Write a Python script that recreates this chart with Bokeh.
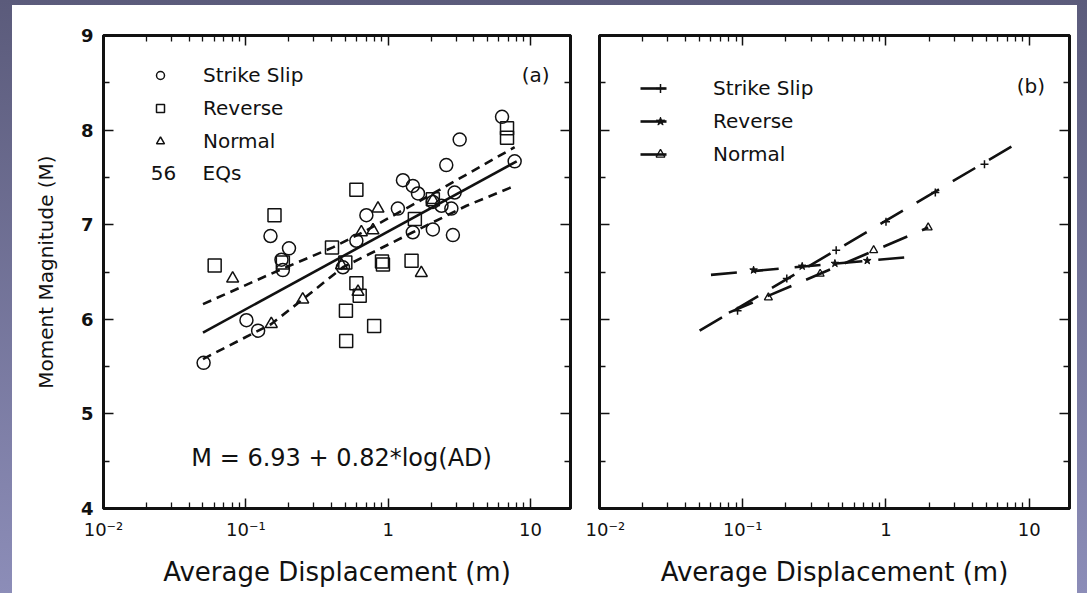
from bokeh.plotting import figure
from bokeh.models import (LogAxis, LinearAxis, FixedTicker, CustomJSTickFormatter,
                          Label, Legend, LegendItem)
from bokeh.layouts import row
from bokeh.embed import file_html
from bokeh.resources import INLINE

FONT = "DejaVu Sans"
INK = "#111111"

# ---------------- data: panel (a) ----------------
ss_ad = [6.31, 3.18, 7.74, 2.56, 1.27, 1.49, 1.62, 2.93, 2.37, 2.78, 0.703, 1.17, 1.49,
         2.06, 2.85, 0.149, 0.201, 0.598, 0.178, 0.182, 0.101, 0.122, 0.0505, 0.481, 2.06]
ss_m = [8.14, 7.90, 7.67, 7.63, 7.47, 7.41, 7.33, 7.34, 7.20, 7.17, 7.10, 7.17, 6.92,
        6.95, 6.89, 6.88, 6.75, 6.83, 6.63, 6.52, 5.99, 5.88, 5.54, 6.55, 7.24]

rev_ad = [6.84, 6.84, 0.598, 0.159, 1.54, 0.403, 0.0604, 0.182, 0.919, 0.905, 1.46, 0.598,
          0.631, 0.505, 0.797, 0.507, 0.50, 2.06]
rev_m = [8.02, 7.92, 7.37, 7.10, 7.06, 6.76, 6.57, 6.60, 6.58, 6.61, 6.62, 6.38,
         6.25, 6.09, 5.93, 5.77, 6.60, 7.27]

nor_ad = [0.848, 0.782, 0.648, 1.71, 0.0808, 0.251, 0.151, 0.614, 0.47, 2.06]
nor_m = [7.17, 6.94, 6.92, 6.49, 6.43, 6.21, 5.95, 6.29, 6.57, 7.26]

fit_ad = [0.05, 8.0]
fit_m = [5.86, 7.67]
upper_ad = [0.05, 0.178, 0.409, 0.703, 2.07, 7.74]
upper_m = [6.16, 6.53, 6.76, 6.94, 7.33, 7.82]
lower_ad = [0.05, 0.151, 0.251, 0.481, 1.49, 3.55, 7.74]
lower_m = [5.58, 5.95, 6.21, 6.55, 6.92, 7.20, 7.41]

# ---------------- data: panel (b) ----------------
ssb_line_ad = [0.05, 7.8]
ssb_line_m = [5.88, 7.84]
ssb_mk_ad = [0.092, 0.203, 0.449, 1.0, 2.21, 4.87]
ssb_mk_m = [6.09, 6.43, 6.73, 7.03, 7.34, 7.64]

revb_line_ad = [0.06, 1.5]
revb_line_m = [6.47, 6.66]
revb_mk_ad = [0.119, 0.26, 0.44, 0.74]
revb_mk_m = [6.52, 6.56, 6.59, 6.62]

norb_line_ad = [0.08, 1.97]
norb_line_m = [6.07, 6.97]
norb_mk_ad = [0.151, 0.347, 0.82, 1.97]
norb_mk_m = [6.23, 6.48, 6.73, 6.97]

# ---------------- axes ----------------
x_ticks = [0.01, 0.1, 1, 10]
x_tick_labels = ["10\u207b\u00b2", "10\u207b\u00b9", "1", "10"]
x_minor = [m * 10.0 ** k for k in (-2, -1, 0, 1) for m in range(2, 10)]
y_ticks = [4, 5, 6, 7, 8, 9]
y_minor = [4.5, 5.5, 6.5, 7.5, 8.5]

X_RANGE = (0.01, 19.1)
Y_RANGE = (4, 9)


def x_formatter():
    return CustomJSTickFormatter(
        args=dict(tick_vals=x_ticks, tick_texts=x_tick_labels),
        code="""
        for (let i = 0; i < tick_vals.length; i++) {
            if (Math.abs(Math.log10(tick_vals[i]) - Math.log10(tick)) < 1e-6) return tick_texts[i];
        }
        return '';
        """)


def blank_formatter():
    return CustomJSTickFormatter(code="return '';")


def style_axis(ax, show_labels):
    ax.axis_line_width = 3
    ax.axis_line_color = INK
    ax.major_tick_in = 10
    ax.major_tick_out = 0
    ax.minor_tick_in = 6
    ax.minor_tick_out = 0
    ax.major_tick_line_width = 1.5
    ax.minor_tick_line_width = 1.3
    ax.major_tick_line_color = INK
    ax.minor_tick_line_color = INK
    ax.major_label_text_font = FONT
    ax.major_label_text_color = INK
    ax.axis_label_text_font = FONT
    ax.axis_label_text_color = INK
    ax.axis_label_text_font_style = "normal"
    if not show_labels:
        ax.formatter = blank_formatter()
        ax.major_label_text_font_size = "0px"
        ax.major_label_standoff = 0


def make_fig(frame_w, left_b, right_b, show_y_labels):
    p = figure(x_axis_type="log", x_range=X_RANGE, y_range=Y_RANGE,
               frame_width=frame_w, frame_height=473,
               min_border_left=left_b, min_border_right=right_b,
               min_border_top=30, min_border_bottom=85,
               output_backend="svg", toolbar_location=None)
    p.background_fill_color = "white"
    p.border_fill_color = "white"
    p.outline_line_color = INK
    p.outline_line_width = 3
    p.xgrid.visible = False
    p.ygrid.visible = False

    xt = FixedTicker(ticks=x_ticks, minor_ticks=x_minor)
    yt = FixedTicker(ticks=y_ticks, minor_ticks=y_minor)

    xa = p.xaxis[0]
    xa.ticker = xt
    xa.formatter = x_formatter()
    style_axis(xa, True)
    xa.major_label_text_font_size = "18px"
    xa.major_label_standoff = 10
    xa.axis_label = "Average Displacement (m)"
    xa.axis_label_text_font_size = "26px"
    xa.axis_label_standoff = 14

    ya = p.yaxis[0]
    ya.ticker = yt
    style_axis(ya, show_y_labels)
    if show_y_labels:
        ya.major_label_text_font_size = "18px"
        ya.major_label_text_font_style = "bold"
        ya.major_label_standoff = 10
        ya.axis_label = "Moment Magnitude (M)"
        ya.axis_label_text_font_size = "20px"
        ya.axis_label_standoff = 20

    top = LogAxis(ticker=FixedTicker(ticks=x_ticks, minor_ticks=x_minor))
    style_axis(top, False)
    p.add_layout(top, "above")
    right = LinearAxis(ticker=FixedTicker(ticks=y_ticks, minor_ticks=y_minor))
    style_axis(right, False)
    p.add_layout(right, "right")
    return p


def add_label(p, x, y, text, size, align="left"):
    p.add_layout(Label(x=x, y=y, text=text, text_font=FONT, text_font_size=size,
                       text_color=INK, text_align=align, text_baseline="middle"))


# ---------------- panel (a) ----------------
pa = make_fig(467, 91, 15, True)
pa.margin = (5, 0, 0, 12)
pa.line(fit_ad, fit_m, line_color=INK, line_width=2.6)
pa.line(upper_ad, upper_m, line_color=INK, line_width=2.6, line_dash="9 6")
pa.line(lower_ad, lower_m, line_color=INK, line_width=2.6, line_dash="9 6")
r_ss = pa.scatter(ss_ad, ss_m, marker="circle", size=13, fill_color=None,
                  line_color=INK, line_width=1.5)
r_rev = pa.scatter(rev_ad, rev_m, marker="square", size=13, fill_color=None,
                   line_color=INK, line_width=1.5)
r_nor = pa.scatter(nor_ad, nor_m, marker="triangle", size=12, fill_color=None,
                   line_color=INK, line_width=1.5)

leg_a = Legend(items=[LegendItem(label="Strike Slip", renderers=[r_ss]),
                      LegendItem(label="Reverse", renderers=[r_rev]),
                      LegendItem(label="Normal", renderers=[r_nor])],
               location=(47, 355), padding=0, margin=0, spacing=9,
               glyph_width=20, glyph_height=22, label_height=22, label_standoff=33,
               label_text_font=FONT, label_text_font_size="20px", label_text_color=INK,
               border_line_color=None, background_fill_alpha=0)
pa.add_layout(leg_a)
add_label(pa, 0.0215, 7.55, "56", "20px")
add_label(pa, 0.0497, 7.55, "EQs", "20px")
add_label(pa, 13.6, 8.58, "(a)", "20px", align="right")
add_label(pa, 0.471, 4.53, "M = 6.93 + 0.82*log(AD)", "24px", align="center")

# ---------------- panel (b) ----------------
pb = make_fig(470, 14, 8, False)
pb.margin = (5, 10, 0, 0)
DASH = "26 16"
l_ss = pb.line(ssb_line_ad, ssb_line_m, line_color=INK, line_width=2.6, line_dash=DASH)
m_ss = pb.scatter(ssb_mk_ad, ssb_mk_m, marker="cross", size=8, line_color=INK, line_width=1.5)
l_rev = pb.line(revb_line_ad, revb_line_m, line_color=INK, line_width=2.6, line_dash=DASH)
m_rev = pb.scatter(revb_mk_ad, revb_mk_m, marker="star", size=8, fill_color=INK,
                   line_color=INK, line_width=1)
l_nor = pb.line(norb_line_ad, norb_line_m, line_color=INK, line_width=2.6, line_dash=DASH)
m_nor = pb.scatter(norb_mk_ad, norb_mk_m, marker="triangle", size=8, fill_color=None,
                   line_color=INK, line_width=1.3)

leg_b = Legend(items=[LegendItem(label="Strike Slip", renderers=[l_ss, m_ss]),
                      LegendItem(label="Reverse", renderers=[l_rev, m_rev]),
                      LegendItem(label="Normal", renderers=[l_nor, m_nor])],
               location=(41, 342), padding=0, margin=0, spacing=9,
               glyph_width=40, glyph_height=22, label_height=22, label_standoff=33,
               label_text_font=FONT, label_text_font_size="20px", label_text_color=INK,
               border_line_color=None, background_fill_alpha=0)
pb.add_layout(leg_b)
add_label(pb, 12.9, 8.47, "(b)", "20px", align="right")

BG = ("linear-gradient(#ffffff, #ffffff) 12px 5px / calc(100% - 22px) 100% no-repeat, "
      "linear-gradient(to bottom, #5b5b7b, #8c8db8)")
layout = row(pa, pb, spacing=0, styles={"background": BG})
open("out.html", "w").write(file_html(layout, INLINE))
